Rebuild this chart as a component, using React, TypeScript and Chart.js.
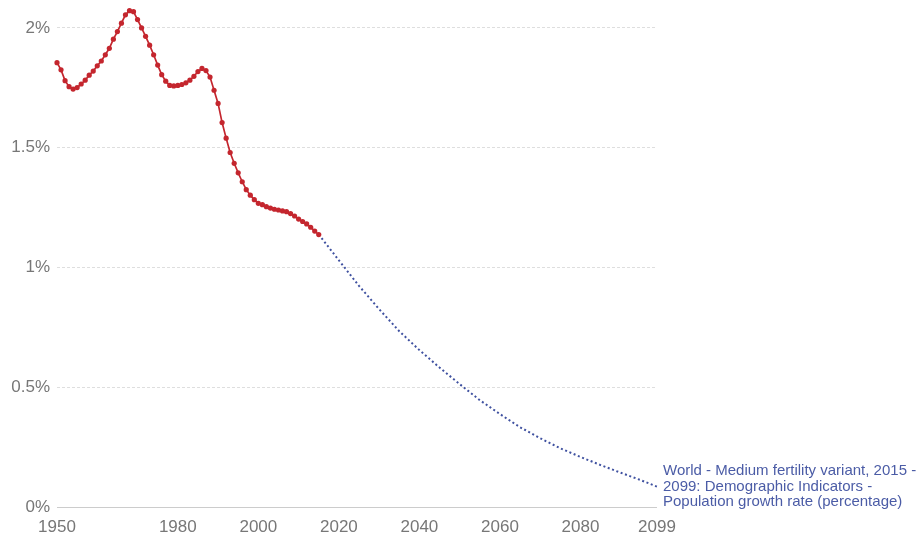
import { useEffect, useRef } from "react";
import { Chart, registerables } from "chart.js";

Chart.register(...registerables);

const historyYears = [
  1950, 1951, 1952, 1953, 1954, 1955, 1956, 1957, 1958, 1959,
  1960, 1961, 1962, 1963, 1964, 1965, 1966, 1967, 1968, 1969,
  1970, 1971, 1972, 1973, 1974, 1975, 1976, 1977, 1978, 1979,
  1980, 1981, 1982, 1983, 1984, 1985, 1986, 1987, 1988, 1989,
  1990, 1991, 1992, 1993, 1994, 1995, 1996, 1997, 1998, 1999,
  2000, 2001, 2002, 2003, 2004, 2005, 2006, 2007, 2008, 2009,
  2010, 2011, 2012, 2013, 2014, 2015,
];
const historyRates = [
  1.855, 1.825, 1.78, 1.755, 1.745, 1.751, 1.766, 1.782, 1.803, 1.82,
  1.842, 1.862, 1.888, 1.915, 1.953, 1.985, 2.02, 2.055, 2.072, 2.068,
  2.035, 2.0, 1.965, 1.928, 1.888, 1.845, 1.805, 1.778, 1.76, 1.758,
  1.76, 1.764, 1.771, 1.782, 1.798, 1.818, 1.831, 1.822, 1.795, 1.74,
  1.685, 1.605, 1.54, 1.48, 1.435, 1.395, 1.358, 1.325, 1.302, 1.283,
  1.268, 1.262, 1.254, 1.248, 1.243, 1.24, 1.236, 1.233, 1.225, 1.215,
  1.202, 1.192, 1.182, 1.168, 1.152, 1.1375,
];

const projectionYears = [
  2015, 2020, 2025, 2030, 2035, 2040, 2045, 2050, 2055, 2060,
  2065, 2070, 2075, 2080, 2085, 2090, 2095, 2099,
];
const projectionRates = [
  1.1375, 1.03, 0.923, 0.826, 0.734, 0.655, 0.582, 0.513, 0.446, 0.388,
  0.333, 0.287, 0.245, 0.209, 0.175, 0.143, 0.112, 0.085,
];

const xTickYears = [1950, 1980, 2000, 2020, 2040, 2060, 2080, 2099];
const yTickValues = [0, 0.5, 1, 1.5, 2];

const seriesLabelLines = [
  "World - Medium fertility variant, 2015 -",
  "2099: Demographic Indicators -",
  "Population growth rate (percentage)",
];

const FONT = '"Liberation Sans", Arial, sans-serif';
const RED = "#c4262e";
const BLUE = "#3f51a0";
const LABEL_BLUE = "#4b5ca6";
const TICK_GRAY = "#777777";

const endLabelPlugin = {
  id: "endLabel",
  afterDatasetsDraw(chart: any) {
    const meta = chart.getDatasetMeta(0);
    const pts = meta.data;
    if (!pts || !pts.length) return;
    const last = pts[pts.length - 1];
    const ctx = chart.ctx;
    ctx.save();
    ctx.font = `15px ${FONT}`;
    ctx.fillStyle = LABEL_BLUE;
    ctx.textBaseline = "middle";
    ctx.textAlign = "left";
    const lh = 15.5;
    const n = seriesLabelLines.length;
    seriesLabelLines.forEach((t, i) => {
      ctx.fillText(t, last.x + 6, last.y + (i - (n - 1) / 2) * lh);
    });
    ctx.restore();
  },
};

export default function App() {
  const canvasRef = useRef<HTMLCanvasElement | null>(null);

  useEffect(() => {
    if (!canvasRef.current) return;
    Chart.defaults.font.family = FONT;
    const chart = new Chart(canvasRef.current, {
      type: "line",
      data: {
        datasets: [
          {
            label: "Projection",
            data: projectionYears.map((x, i) => ({ x, y: projectionRates[i] })),
            borderColor: BLUE,
            borderWidth: 2,
            borderDash: [2, 2.6],
            pointRadius: 0,
            tension: 0,
            fill: false,
            clip: false,
            order: 2,
          },
          {
            label: "History",
            data: historyYears.map((x, i) => ({ x, y: historyRates[i] })),
            borderColor: RED,
            backgroundColor: RED,
            borderWidth: 1.7,
            pointRadius: 2.6,
            pointBorderWidth: 0,
            pointBackgroundColor: RED,
            tension: 0,
            fill: false,
            clip: false,
            order: 1,
          },
        ],
      },
      options: {
        animation: false,
        responsive: true,
        maintainAspectRatio: false,
        layout: { padding: { left: 0, right: 262, top: 3, bottom: 0 } },
        plugins: {
          legend: { display: false },
          tooltip: { enabled: false },
        },
        scales: {
          x: {
            type: "linear",
            min: 1950,
            max: 2099,
            grid: { display: false, drawTicks: false },
            border: { display: false },
            afterBuildTicks: (scale: any) => {
              scale.ticks = xTickYears.map((v) => ({ value: v }));
            },
            afterFit: (scale: any) => {
              scale.height = 29;
              scale.paddingLeft = 0;
              scale.paddingRight = 0;
            },
            ticks: {
              autoSkip: false,
              maxRotation: 0,
              padding: 10,
              color: TICK_GRAY,
              font: { size: 17, family: FONT },
              callback: (v: any) => String(v),
            },
          },
          y: {
            type: "linear",
            min: 0,
            max: 2.1,
            afterBuildTicks: (scale: any) => {
              scale.ticks = yTickValues.map((v) => ({ value: v }));
            },
            afterFit: (scale: any) => {
              scale.width = 57;
              scale.paddingTop = 0;
              scale.paddingBottom = 0;
            },
            grid: {
              drawTicks: false,
              color: (c: any) => (c.tick && c.tick.value === 0 ? "#cccccc" : "#dedede"),
              lineWidth: 1,
            },
            border: {
              display: false,
              dash: (c: any) => (c.tick && c.tick.value === 0 ? [] : [3, 2]),
            },
            ticks: {
              padding: 7,
              color: TICK_GRAY,
              font: { size: 17, family: FONT },
              callback: (v: any) => `${v}%`,
            },
          },
        },
      },
      plugins: [endLabelPlugin],
    });
    return () => chart.destroy();
  }, []);

  return (
    <div style={{ position: "fixed", left: 0, top: 0, width: 919, height: 536, background: "#fff" }}>
      <canvas ref={canvasRef} />
    </div>
  );
}
